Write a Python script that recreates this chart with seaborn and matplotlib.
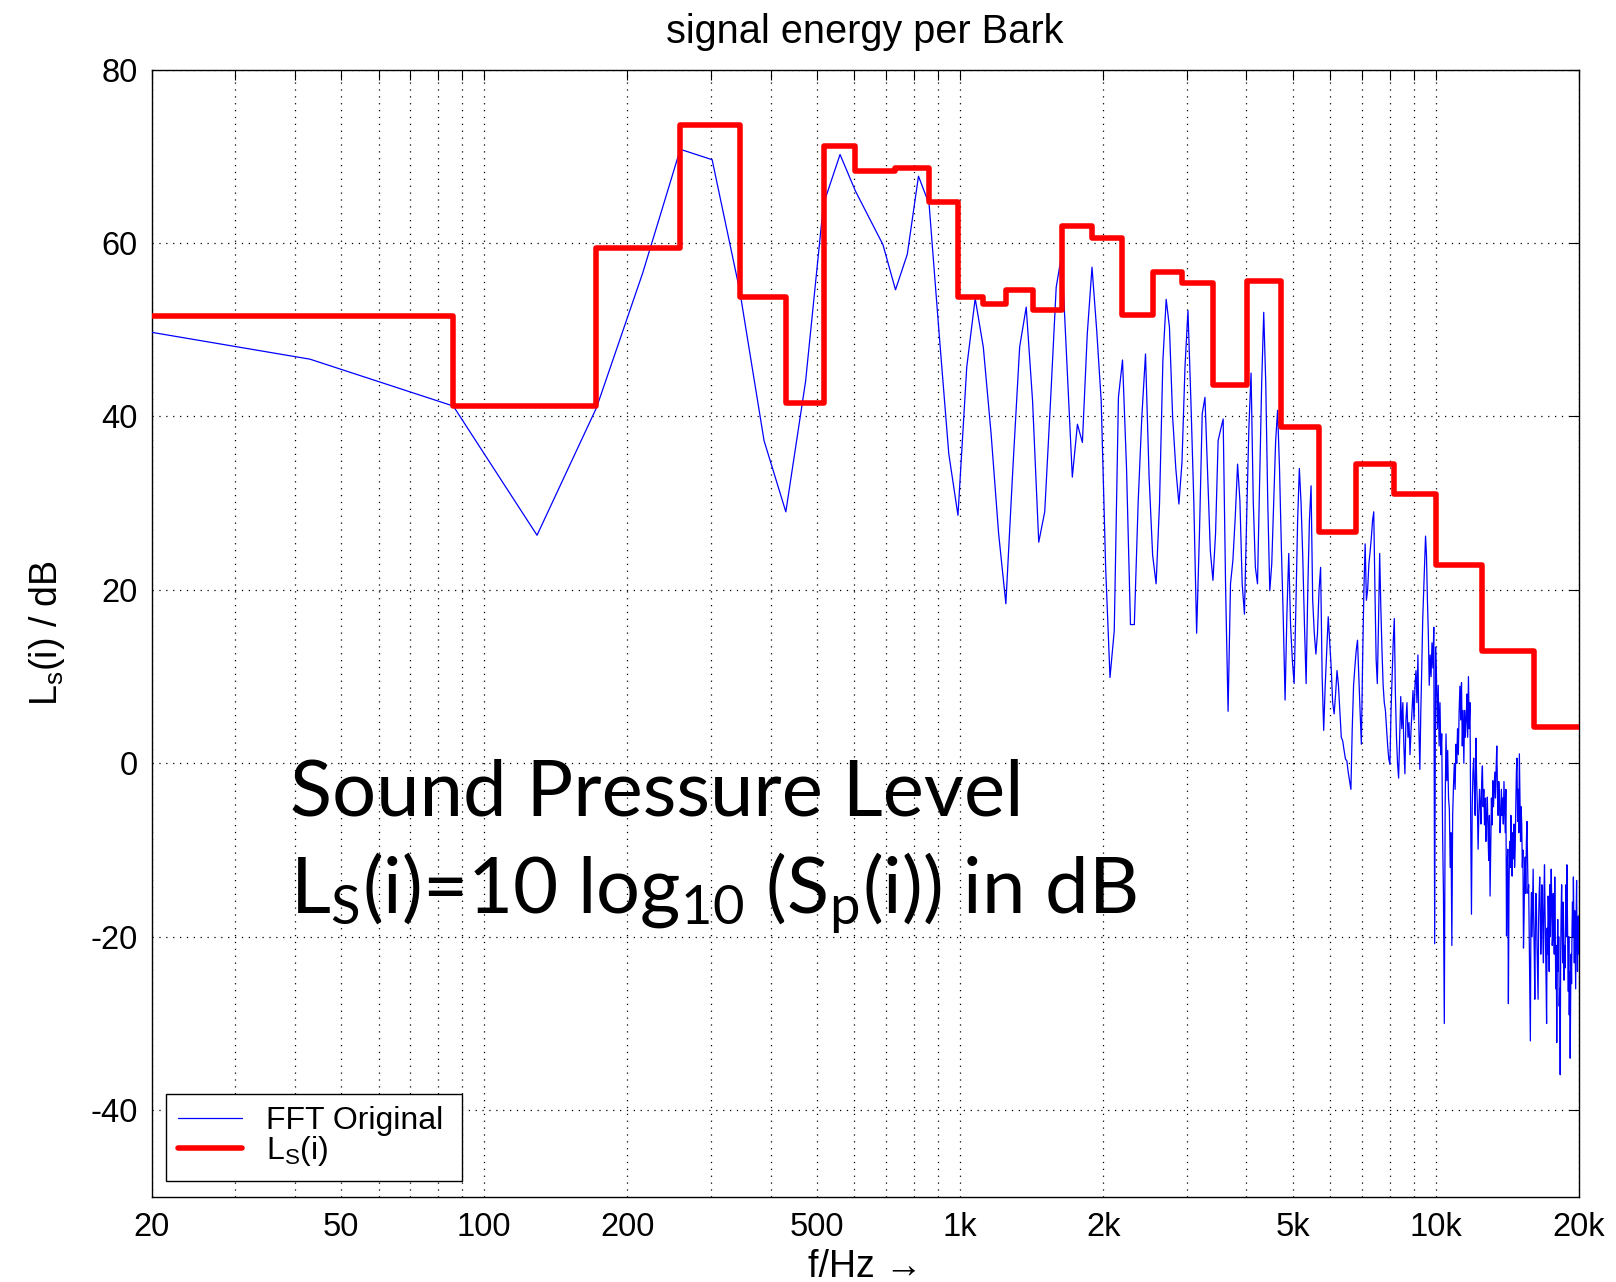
import numpy as np
import pandas as pd
import matplotlib
matplotlib.use("Agg")
import matplotlib.pyplot as plt
import seaborn as sns
from matplotlib.ticker import FixedLocator, FixedFormatter, NullFormatter

# ---------------- data ----------------
fft_start_hz = 20.0
fft_start_db = 49.7
fft_bin_hz = 44100 / 1024          # FFT bin spacing
fft_level_db = [
    46.6, 41.2, 26.3, 41.0, 56.5, 70.8, 69.6, 54.5, 37.2, 29.0,
    44.0, 64.5, 70.2, 66.0, 62.8, 59.8, 54.6, 58.7, 67.7, 64.5,
    49.5, 35.7, 28.6, 45.7, 53.6, 48.0, 38.0, 26.5, 18.4, 34.0,
    48.0, 52.6, 41.8, 25.5, 29.0, 41.8, 54.9, 58.7, 45.7, 33.0,
    39.1, 37.0, 49.5, 57.2, 50.0, 41.8, 22.6, 9.9, 15.3, 42.2,
    46.5, 34.0, 16.0, 16.0, 30.0, 40.0, 47.2, 33.0, 24.0, 20.7,
    30.0, 46.4, 53.5, 50.3, 39.9, 34.0, 29.9, 34.7, 45.7, 52.2,
    41.8, 30.3, 15.0, 26.5, 40.3, 42.2, 33.4, 24.5, 21.1, 26.5,
    37.2, 38.5, 39.7, 20.0, 6.0, 20.7, 23.4, 28.4, 34.5, 30.3,
    20.7, 17.2, 28.4, 38.7, 45.0, 30.3, 22.6, 20.7, 32.2, 43.8,
    52.0, 43.8, 30.0, 19.9, 23.0, 30.3, 37.2, 40.7, 34.1, 24.9,
    16.8, 7.3, 17.3, 24.2, 16.0, 11.9, 9.2, 18.0, 28.0, 34.0,
    30.0, 23.8, 16.0, 9.2, 20.0, 28.0, 32.0, 18.8, 15.0, 12.6,
    15.0, 20.0, 22.6, 10.0, 3.8, 9.0, 13.0, 16.9, 14.0, 11.0,
    7.0, 5.7, 8.0, 10.7, 9.0, 6.0, 3.0, 2.6, 1.5, 0.5,
    0.3, -1.0, -2.0, -3.0, 4.0, 9.0, 11.1, 13.0, 14.2, 10.0,
    6.0, 2.2, 12.0, 20.0, 25.3, 18.8, 20.0, 23.0, 24.4, 26.0,
    28.0, 29.0, 20.0, 12.0, 9.2, 16.0, 24.2, 18.0, 13.0, 9.0,
    7.0, 6.1, 4.0, 2.0, 0.5, -0.1, 6.0, 10.0, 14.0, 16.7,
    8.0, 3.0, 0.0, -1.7, 3.0, 7.7, 4.0, 7.0, 2.0, -1.2,
    5.0, 7.0, 3.0, 4.7, 1.0, 3.8, 6.0, 8.4, 5.0, 9.0,
    10.7, 7.0, 12.5, 4.0, -0.7, 6.0, 11.0, 16.6, 20.0, 23.0,
    26.2, 24.0, 18.9, 15.0, 9.0, 12.5, 10.0, 13.9, 11.0, 15.7,
    -20.8, 13.4, 10.0, 4.0, 9.0, 2.0, 7.0, 1.0, 3.4, -8.0,
    -15.0, -30.0, -5.0, 3.4, -2.0, 1.5, -4.0, -5.3, -12.0, -8.0,
    -21.0, -6.0, -2.6, 0.0, -3.0, 2.2, 0.0, 4.0, 1.0, 6.0,
    8.9, 5.0, 9.3, 2.0, 6.1, 0.0, 6.1, 3.0, 5.0, 8.0,
    3.0, 10.0, 4.0, 7.0, -7.1, -17.4, -5.0, -1.0, 0.6, -3.0,
    -6.0, 2.9, -2.0, -5.0, -9.9, -6.0, -3.0, -4.8, -7.0, -2.0,
    -0.3, -5.0, -3.0, -7.1, -4.0, -9.0, -6.0, -3.9, -8.0, -11.2,
    -6.0, -15.3, -10.0, -4.0, -7.1, -2.0, -5.0, -3.0, -1.0, -4.0,
    -0.5, 2.0, -3.0, -6.0, -2.1, -4.0, -8.0, -5.8, -3.0, -6.0,
    -4.0, -7.0, -2.1, -5.0, -8.0, -3.0, -19.9, -12.0, -9.9, -27.7,
    -14.0, -9.0, -12.0, -6.0, -9.9, -13.0, -8.0, -11.0, -7.0, -12.0,
    -10.0, -5.0, -1.0, 0.6, -6.7, -3.0, -8.0, 1.1, -4.0, -9.0,
    -5.0, -7.1, -12.0, -10.0, -21.3, -17.6, -12.0, -10.8, -15.0, -9.0,
    -6.7, -11.0, -15.0, -14.0, -20.0, -25.0, -32.0, -18.0, -14.9, -20.0,
    -16.0, -12.2, -18.0, -22.0, -27.2, -19.0, -15.0, -16.7, -21.0, -24.0,
    -27.2, -18.0, -15.0, -13.1, -17.0, -22.0, -19.5, -14.0, -16.0, -20.0,
    -23.0, -15.0, -11.7, -17.0, -21.0, -25.0, -30.0, -19.0, -22.0, -15.3,
    -18.0, -24.0, -14.0, -20.0, -17.0, -12.2, -16.0, -21.0, -19.9, -15.0,
    -18.0, -22.0, -13.1, -19.0, -26.0, -21.0, -32.2, -23.0, -18.0, -24.0,
    -20.0, -28.0, -26.0, -35.9, -22.0, -17.0, -14.0, -19.0, -23.0, -16.0,
    -19.9, -25.0, -21.0, -23.6, -18.0, -14.0, -20.0, -11.7, -17.0, -22.0,
    -26.3, -20.0, -29.0, -24.0, -34.0, -27.0, -22.0, -25.4, -19.0, -16.0,
    -20.0, -13.1, -18.0, -23.0, -17.0, -21.7, -26.0, -18.0, -13.5, -20.0,
    -24.0, -19.0, -17.6, -22.0,
]

bark_edges_hz = [20, 86, 172, 258, 345, 431, 517, 603, 732, 861, 990, 1120,
                 1249, 1421, 1637, 1895, 2196, 2541, 2928, 3402, 4005, 4737,
                 5685, 6804, 8183, 9991, 12489, 16064, 20000]
bark_level_db = [51.6, 41.2, 59.4, 73.6, 53.8, 41.6, 71.2, 68.3, 68.6, 64.7,
                 53.8, 53.0, 54.6, 52.3, 61.9, 60.6, 51.7, 56.7, 55.4, 43.6,
                 55.6, 38.8, 26.7, 34.5, 31.0, 22.9, 12.9, 4.2]

x_tick_values = [20, 50, 100, 200, 500, 1000, 2000, 5000, 10000, 20000]
x_tick_labels = ["20", "50", "100", "200", "500", "1k", "2k", "5k", "10k", "20k"]
x_minor_values = [30, 40, 60, 70, 80, 90, 300, 400, 600, 700, 800, 900,
                  3000, 4000, 6000, 7000, 8000, 9000]
y_tick_values = [-40, -20, 0, 20, 40, 60, 80]

title_text = "signal energy per Bark"
xlabel_text = "f/Hz \u2192"
ylabel_text = r"L$_\mathsf{s}$(i) / dB"
legend_fft = "FFT Original"
legend_ls = r"L$_\mathsf{S}$(i)"
note_line1 = "Sound Pressure Level"
note_line2 = r"L$_\mathrm{S}$(i)=10 log$_\mathrm{10}$ (S$_\mathrm{p}$(i)) in dB"

# ---------------- frames ----------------
fft_freq = np.concatenate([[fft_start_hz],
                           np.arange(1, len(fft_level_db) + 1) * fft_bin_hz])
df_fft = pd.DataFrame({"freq": fft_freq,
                       "level": [fft_start_db] + fft_level_db})
df_bark = pd.DataFrame({"freq": bark_edges_hz,
                        "level": bark_level_db + [bark_level_db[-1]]})

# ---------------- style ----------------
sns.set_theme(style="white")
plt.rcParams.update({
    "font.family": ["Liberation Sans", "DejaVu Sans"],
    "mathtext.fontset": "custom",
    "mathtext.rm": "Lato",
    "mathtext.it": "Lato:italic",
    "mathtext.bf": "Lato:bold",
    "mathtext.sf": "Liberation Sans",
    "axes.unicode_minus": False,
    "axes.edgecolor": "black",
    "axes.linewidth": 1.0,
    "text.color": "black",
    "axes.labelcolor": "black",
    "xtick.color": "black",
    "ytick.color": "black",
})

W, H = 1616, 1282
fig = plt.figure(figsize=(W / 100, H / 100), dpi=100)
ax_l, ax_r, ax_t, ax_b = 151.5, 1579, 69.5, 1197
ax = fig.add_axes([ax_l / W, 1 - ax_b / H, (ax_r - ax_l) / W, (ax_b - ax_t) / H])

sns.lineplot(data=df_fft, x="freq", y="level", ax=ax, color="#0000ff",
             linewidth=0.9, estimator=None, sort=False, label=legend_fft,
             zorder=3)
sns.lineplot(data=df_bark, x="freq", y="level", ax=ax, color="#ff0000",
             linewidth=4.0, drawstyle="steps-post", estimator=None, sort=False,
             label=legend_ls, zorder=4)

ax.set_xscale("log")
ax.set_xlim(20, 20000)
ax.set_ylim(-50, 80)

ax.xaxis.set_major_locator(FixedLocator(x_tick_values))
ax.xaxis.set_major_formatter(FixedFormatter(x_tick_labels))
ax.xaxis.set_minor_locator(FixedLocator(x_minor_values))
ax.xaxis.set_minor_formatter(NullFormatter())
ax.yaxis.set_major_locator(FixedLocator(y_tick_values))

ax.tick_params(which="both", direction="in", top=True, right=True,
               length=7, width=0.8, labelsize=23.5, pad=10)
ax.tick_params(axis="x", which="major", pad=11)

ax.grid(True, which="major", linestyle=(0, (1, 4.5)), color="black", linewidth=0.9)
ax.xaxis.grid(True, which="minor", linestyle=(0, (1, 4.5)), color="black", linewidth=0.9)
ax.set_axisbelow(True)

ax.set_title(title_text, fontsize=28.6, pad=19)
ax.set_xlabel(xlabel_text, fontsize=27, labelpad=4)
ax.set_ylabel(ylabel_text, fontsize=27, labelpad=17)

leg = ax.legend(loc="lower left",
                bbox_to_anchor=(0.0099, 0.0145, 0.2078, 0.0784),
                mode="expand",
                borderaxespad=0, fontsize=23, frameon=True, fancybox=False,
                shadow=False, framealpha=1, edgecolor="black",
                handlelength=2.0, handletextpad=0.75, labelspacing=-0.08,
                borderpad=0.4)
leg.get_frame().set_linewidth(1.0)

fig.text(289.6 / W, 1 - 816 / H, note_line1, fontsize=56, family="Lato",
         va="baseline", ha="left")
fig.text(289.6 / W, 1 - 912 / H, note_line2, fontsize=56, family="Lato",
         va="baseline", ha="left")

fig.savefig("out.png", dpi=100)
